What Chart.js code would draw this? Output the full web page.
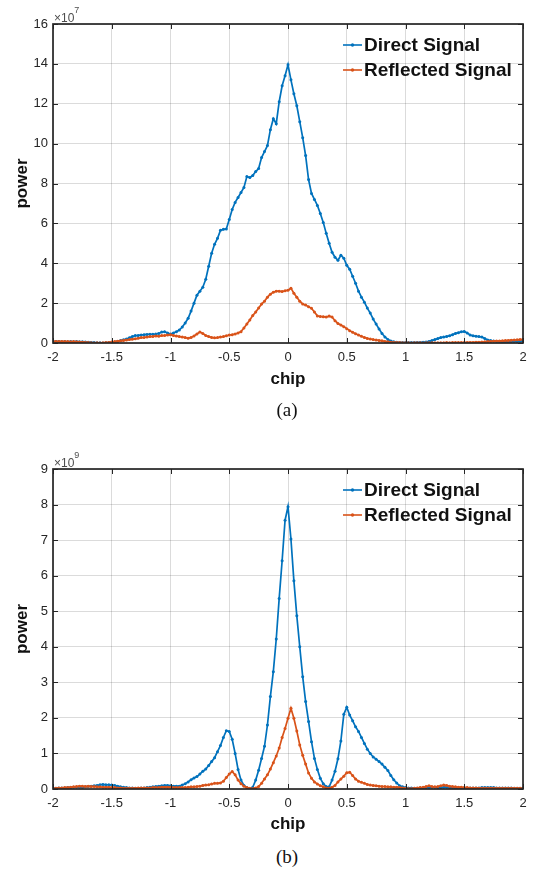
<!DOCTYPE html>
<html>
<head>
<meta charset="utf-8">
<script src="https://cdn.jsdelivr.net/npm/chart.js@4.4.1/dist/chart.umd.min.js"></script>
<style>
  body { margin: 0; background: #fff; width: 535px; height: 869px; position: relative; overflow: hidden; }
  .panel { position: absolute; left: 0; }
  .caption { position: absolute; left: 187px; width: 200px; text-align: center; line-height: 22px;
             font: 19px "Liberation Serif", "Times New Roman", serif; color: #111; }
</style>
</head>
<body>
<canvas id="panelA" class="panel" style="top:0" width="535" height="400"></canvas>
<div class="caption" style="top:399px">(a)</div>
<canvas id="panelB" class="panel" style="top:445px" width="535" height="400"></canvas>
<div class="caption" style="top:846px">(b)</div>

<script>
// chip offsets, one sample every 1/40 chip
const chips = [
  -2, -1.975, -1.95, -1.925, -1.9, -1.875, -1.85, -1.825, -1.8, -1.775,
  -1.75, -1.725, -1.7, -1.675, -1.65, -1.625, -1.6, -1.575, -1.55, -1.525,
  -1.5, -1.475, -1.45, -1.425, -1.4, -1.375, -1.35, -1.325, -1.3, -1.275,
  -1.25, -1.225, -1.2, -1.175, -1.15, -1.125, -1.1, -1.075, -1.05, -1.025,
  -1, -0.975, -0.95, -0.925, -0.9, -0.875, -0.85, -0.825, -0.8, -0.775,
  -0.75, -0.725, -0.7, -0.675, -0.65, -0.625, -0.6, -0.575, -0.55, -0.525,
  -0.5, -0.475, -0.45, -0.425, -0.4, -0.375, -0.35, -0.325, -0.3, -0.275,
  -0.25, -0.225, -0.2, -0.175, -0.15, -0.125, -0.1, -0.075, -0.05, -0.025,
  0,
  0.025, 0.05, 0.075, 0.1, 0.125, 0.15, 0.175, 0.2, 0.225, 0.25,
  0.275, 0.3, 0.325, 0.35, 0.375, 0.4, 0.425, 0.45, 0.475, 0.5,
  0.525, 0.55, 0.575, 0.6, 0.625, 0.65, 0.675, 0.7, 0.725, 0.75,
  0.775, 0.8, 0.825, 0.85, 0.875, 0.9, 0.925, 0.95, 0.975, 1,
  1.025, 1.05, 1.075, 1.1, 1.125, 1.15, 1.175, 1.2, 1.225, 1.25,
  1.275, 1.3, 1.325, 1.35, 1.375, 1.4, 1.425, 1.45, 1.475, 1.5,
  1.525, 1.55, 1.575, 1.6, 1.625, 1.65, 1.675, 1.7, 1.725, 1.75,
  1.775, 1.8, 1.825, 1.85, 1.875, 1.9, 1.925, 1.95, 1.975, 2
];

// panel (a), power in units of 1e7
const directA = [
  0.08, 0.07, 0.08, 0.06, 0.07, 0.06, 0.07, 0.06, 0.07, 0.06, 0.06, 0.05, 0.04, 0.03, 0.02, 0.01, 0.01, 0.00, 0.01, 0.02,
  0.03, 0.05, 0.08, 0.12, 0.16, 0.20, 0.26, 0.32, 0.37, 0.38, 0.40, 0.42, 0.43, 0.44, 0.44, 0.45, 0.48, 0.55, 0.57, 0.50,
  0.45, 0.50, 0.57, 0.65, 0.80, 1.00, 1.24, 1.60, 2.00, 2.40, 2.60, 2.80, 3.20, 3.85, 4.50, 4.95, 5.25, 5.65, 5.70, 5.72,
  6.20, 6.70, 7.05, 7.30, 7.55, 7.80, 8.35, 8.30, 8.40, 8.60, 8.75, 9.30, 9.60, 9.90, 10.70, 11.25, 11.00, 12.10, 12.90, 13.40,
  13.95, 13.20, 12.50, 11.90, 11.10, 10.30, 9.40, 8.20, 7.50, 7.20, 6.90, 6.50, 6.05, 5.50, 5.00, 4.55, 4.30, 4.15, 4.40, 4.25,
  3.90, 3.70, 3.35, 3.00, 2.60, 2.30, 2.05, 1.75, 1.50, 1.20, 0.95, 0.70, 0.48, 0.30, 0.18, 0.10, 0.06, 0.04, 0.03, 0.02,
  0.02, 0.02, 0.02, 0.02, 0.03, 0.03, 0.04, 0.05, 0.08, 0.12, 0.17, 0.22, 0.27, 0.30, 0.33, 0.36, 0.42, 0.48, 0.52, 0.56,
  0.58, 0.50, 0.40, 0.36, 0.34, 0.32, 0.30, 0.22, 0.15, 0.12, 0.10, 0.08, 0.07, 0.06, 0.07, 0.06, 0.07, 0.08, 0.08, 0.09,
  0.10
];
const reflectedA = [
  0.08, 0.08, 0.07, 0.08, 0.07, 0.07, 0.06, 0.07, 0.06, 0.05, 0.04, 0.03, 0.02, 0.01, 0.00, 0.01, 0.00, 0.01, 0.02, 0.03,
  0.05, 0.07, 0.09, 0.11, 0.13, 0.15, 0.17, 0.19, 0.21, 0.24, 0.27, 0.28, 0.30, 0.32, 0.33, 0.35, 0.34, 0.37, 0.38, 0.40,
  0.42, 0.38, 0.35, 0.32, 0.30, 0.27, 0.24, 0.28, 0.35, 0.45, 0.55, 0.48, 0.38, 0.32, 0.28, 0.26, 0.27, 0.30, 0.32, 0.36,
  0.40, 0.42, 0.45, 0.50, 0.57, 0.75, 0.95, 1.15, 1.38, 1.55, 1.75, 1.95, 2.10, 2.30, 2.45, 2.55, 2.60, 2.60, 2.58, 2.62,
  2.65, 2.75, 2.50, 2.30, 2.10, 1.95, 1.90, 1.82, 1.74, 1.55, 1.36, 1.33, 1.32, 1.30, 1.35, 1.30, 1.12, 0.98, 0.90, 0.82,
  0.72, 0.62, 0.54, 0.46, 0.40, 0.34, 0.28, 0.23, 0.20, 0.17, 0.15, 0.13, 0.11, 0.08, 0.06, 0.04, 0.03, 0.02, 0.02, 0.01,
  0.01, 0.01, 0.00, 0.01, 0.01, 0.01, 0.00, 0.01, 0.01, 0.01, 0.01, 0.01, 0.01, 0.01, 0.02, 0.01, 0.02, 0.02, 0.02, 0.02,
  0.02, 0.03, 0.03, 0.03, 0.04, 0.04, 0.05, 0.06, 0.07, 0.08, 0.09, 0.10, 0.10, 0.11, 0.12, 0.13, 0.14, 0.15, 0.16, 0.17,
  0.18
];

// panel (b), power in units of 1e9
const directB = [
  0.02, 0.02, 0.03, 0.03, 0.03, 0.04, 0.04, 0.05, 0.05, 0.05, 0.05, 0.06, 0.07, 0.08, 0.09, 0.10, 0.12, 0.13, 0.12, 0.12,
  0.11, 0.10, 0.08, 0.06, 0.05, 0.04, 0.03, 0.03, 0.02, 0.02, 0.03, 0.03, 0.04, 0.05, 0.06, 0.07, 0.08, 0.09, 0.10, 0.10,
  0.09, 0.08, 0.08, 0.08, 0.11, 0.15, 0.20, 0.26, 0.31, 0.35, 0.42, 0.50, 0.56, 0.66, 0.77, 0.88, 1.05, 1.22, 1.45, 1.64,
  1.62, 1.40, 1.00, 0.55, 0.25, 0.10, 0.04, 0.01, 0.05, 0.25, 0.53, 0.86, 1.20, 1.80, 2.60, 3.30, 4.22, 5.36, 6.42, 7.56,
  7.94, 7.03, 5.86, 4.87, 4.00, 3.16, 2.46, 1.90, 1.33, 0.86, 0.55, 0.30, 0.15, 0.07, 0.06, 0.25, 0.50, 0.85, 1.35, 2.10,
  2.30, 2.08, 1.92, 1.75, 1.62, 1.45, 1.28, 1.12, 1.00, 0.90, 0.84, 0.77, 0.70, 0.61, 0.52, 0.38, 0.26, 0.17, 0.09, 0.06,
  0.04, 0.03, 0.03, 0.02, 0.02, 0.03, 0.03, 0.04, 0.04, 0.05, 0.05, 0.04, 0.04, 0.05, 0.05, 0.04, 0.04, 0.03, 0.03, 0.03,
  0.03, 0.03, 0.03, 0.03, 0.03, 0.03, 0.04, 0.04, 0.04, 0.04, 0.04, 0.03, 0.03, 0.03, 0.03, 0.03, 0.03, 0.02, 0.02, 0.02,
  0.02
];
const reflectedB = [
  0.02, 0.02, 0.03, 0.03, 0.04, 0.04, 0.05, 0.06, 0.07, 0.08, 0.08, 0.07, 0.08, 0.07, 0.07, 0.06, 0.06, 0.05, 0.05, 0.05,
  0.04, 0.04, 0.03, 0.03, 0.02, 0.02, 0.02, 0.02, 0.02, 0.03, 0.03, 0.03, 0.03, 0.03, 0.04, 0.04, 0.04, 0.05, 0.05, 0.05,
  0.05, 0.04, 0.04, 0.04, 0.04, 0.04, 0.05, 0.06, 0.06, 0.07, 0.08, 0.10, 0.11, 0.12, 0.14, 0.16, 0.16, 0.17, 0.22, 0.32,
  0.42, 0.49, 0.40, 0.25, 0.15, 0.08, 0.04, 0.02, 0.01, 0.03, 0.07, 0.16, 0.28, 0.40, 0.56, 0.74, 0.93, 1.15, 1.45, 1.70,
  1.99, 2.27, 1.99, 1.63, 1.24, 0.95, 0.70, 0.45, 0.30, 0.20, 0.14, 0.09, 0.06, 0.03, 0.02, 0.05, 0.10, 0.20, 0.28, 0.36,
  0.46, 0.47, 0.38, 0.28, 0.22, 0.19, 0.16, 0.13, 0.11, 0.10, 0.09, 0.08, 0.07, 0.07, 0.06, 0.06, 0.05, 0.05, 0.04, 0.03,
  0.02, 0.01, 0.01, 0.02, 0.03, 0.04, 0.05, 0.07, 0.09, 0.07, 0.06, 0.07, 0.09, 0.11, 0.10, 0.08, 0.07, 0.06, 0.05, 0.05,
  0.04, 0.04, 0.03, 0.03, 0.03, 0.02, 0.02, 0.02, 0.02, 0.02, 0.02, 0.02, 0.02, 0.02, 0.02, 0.02, 0.02, 0.02, 0.02, 0.02,
  0.02
];

const seriesNames = ['Direct Signal', 'Reflected Signal'];
const seriesColors = ['#0072BD', '#D95319'];
const xTicks = [-2, -1.5, -1, -0.5, 0, 0.5, 1, 1.5, 2];
const yTicksA = [0, 2, 4, 6, 8, 10, 12, 14, 16];
const yTicksB = [0, 1, 2, 3, 4, 5, 6, 7, 8, 9];

const sans = '"Liberation Sans", Arial, sans-serif';
const inkColor = '#262626';

// box round the axes with inward ticks, plus the x10^n exponent
const matlabFrame = {
    id: 'matlabFrame',
    afterDatasetsDraw(chart, args, opts) {
        const { ctx, chartArea: a, scales: { x, y } } = chart;
        ctx.save();
        ctx.strokeStyle = inkColor;
        ctx.lineWidth = 1;
        ctx.beginPath();
        x.ticks.forEach(t => {
            const px = Math.round(x.getPixelForValue(t.value)) + 0.5;
            ctx.moveTo(px, a.bottom); ctx.lineTo(px, a.bottom - 5);
            ctx.moveTo(px, a.top); ctx.lineTo(px, a.top + 5);
        });
        y.ticks.forEach(t => {
            const py = Math.round(y.getPixelForValue(t.value)) + 0.5;
            ctx.moveTo(a.left, py); ctx.lineTo(a.left + 5, py);
            ctx.moveTo(a.right, py); ctx.lineTo(a.right - 5, py);
        });
        ctx.stroke();
        ctx.lineWidth = 1.7;
        ctx.strokeRect(a.left, a.top, a.right - a.left, a.bottom - a.top);

        ctx.fillStyle = '#4d4d4d';
        ctx.textBaseline = 'alphabetic';
        ctx.font = '12px ' + sans;
        ctx.fillText('×10', a.left + 1, a.top - 2);
        const w = ctx.measureText('×10').width;
        ctx.font = '9px ' + sans;
        ctx.fillText(opts.exponent, a.left + 1 + w, a.top - 11);
        ctx.restore();
    }
};

// legend drawn inside the axes, top right, without a box
const insideLegend = {
    id: 'insideLegend',
    afterDraw(chart) {
        const { ctx, chartArea: a } = chart;
        ctx.save();
        ctx.font = 'bold 19px ' + sans;
        ctx.textBaseline = 'middle';
        chart.data.datasets.forEach((ds, i) => {
            const ly = a.top + 21 + i * 25;
            const lx = a.right - 180;
            ctx.strokeStyle = ds.borderColor;
            ctx.lineWidth = 1.6;
            ctx.beginPath();
            ctx.moveTo(lx, ly); ctx.lineTo(lx + 19, ly);
            ctx.stroke();
            ctx.fillStyle = ds.borderColor;
            ctx.beginPath();
            ctx.arc(lx + 9.5, ly, 1.7, 0, Math.PI * 2);
            ctx.fill();
            ctx.fillStyle = '#111';
            ctx.fillText(ds.label, lx + 21, ly + 1);
        });
        ctx.restore();
    }
};

function series(values, idx) {
    return {
        label: seriesNames[idx],
        data: chips.map((c, i) => ({ x: c, y: values[i] })),
        borderColor: seriesColors[idx],
        backgroundColor: seriesColors[idx],
        borderWidth: 1.7,
        pointRadius: 1.5,
        pointBorderWidth: 0,
        tension: 0,
        order: idx === 0 ? 1 : 0
    };
}

function makeChart(id, direct, reflected, yTicks, exponent, xHeight) {
    const ctx = document.getElementById(id).getContext('2d');
    return new Chart(ctx, {
        type: 'line',
        data: { datasets: [series(direct, 0), series(reflected, 1)] },
        options: {
            responsive: false,
            animation: false,
            devicePixelRatio: 1,
            layout: { padding: { left: 12, right: 12, top: 24, bottom: 10 } },
            plugins: {
                legend: { display: false },
                tooltip: { enabled: false },
                matlabFrame: { exponent: exponent }
            },
            scales: {
                x: {
                    type: 'linear',
                    min: xTicks[0],
                    max: xTicks[xTicks.length - 1],
                    afterBuildTicks: s => { s.ticks = xTicks.map(v => ({ value: v })); },
                    afterFit: s => { s.height = xHeight; },
                    grid: { color: 'rgba(0,0,0,0.14)', drawTicks: false },
                    border: { display: false },
                    ticks: { padding: 7, color: inkColor, font: { family: sans, size: 13 }, callback: v => String(v) },
                    title: { display: true, text: 'chip', color: '#111', padding: 0, font: { family: sans, size: 17, weight: 'bold' } }
                },
                y: {
                    min: yTicks[0],
                    max: yTicks[yTicks.length - 1],
                    afterBuildTicks: s => { s.ticks = yTicks.map(v => ({ value: v })); },
                    afterFit: s => { s.width = 41; },
                    grid: { color: 'rgba(0,0,0,0.14)', drawTicks: false },
                    border: { display: false },
                    ticks: { padding: 5, color: inkColor, font: { family: sans, size: 13 }, callback: v => String(v) },
                    title: { display: true, text: 'power', color: '#111', padding: 0, font: { family: sans, size: 17, weight: 'bold' } }
                }
            }
        },
        plugins: [matlabFrame, insideLegend]
    });
}

makeChart('panelA', directA, reflectedA, yTicksA, '7', 47);
makeChart('panelB', directB, reflectedB, yTicksB, '9', 46);
</script>
</body>
</html>
